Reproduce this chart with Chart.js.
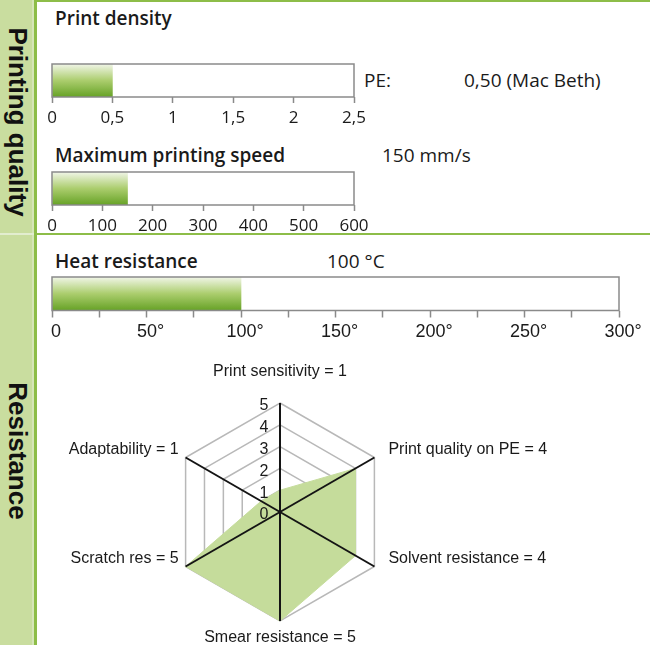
<!DOCTYPE html>
<html>
<head>
<meta charset="utf-8">
<title>Printing quality and resistance</title>
<script src="https://cdn.jsdelivr.net/npm/chart.js@4.4.0/dist/chart.umd.min.js"></script>
<style>
    html, body { margin: 0; padding: 0; background: #fff; }
    body { width: 650px; height: 645px; position: relative; overflow: hidden; font-family: 'Open Sans', sans-serif; color: #1a1a1a; }
    .abs { position: absolute; }
    #sidebar { left: 0; top: 0; width: 34px; height: 645px; background: #c9dd9f; }
    #sideLight { left: 32px; top: 0; width: 2px; height: 645px; background: #d6e6b8; }
    #vline { left: 34px; top: 0; width: 3px; height: 645px; background: #8dbd48; }
    .hline { left: 37px; width: 613px; height: 2px; background: #8dbd48; }
    #sideSep { left: 0; top: 233px; width: 34px; height: 2px; background: #e2edcf; }
    .side-label { font-family: 'Liberation Sans', Arial, sans-serif; font-weight: bold; font-size: 26px; color: #111; white-space: nowrap; transform: translate(-50%, -50%) rotate(90deg); }
    .title { font-weight: 600; font-size: 19px; white-space: nowrap; transform: translateY(-50%); }
    .note { font-size: 19px; white-space: nowrap; transform: translateY(-50%); }
    canvas { position: absolute; }
</style>
</head>
<body>
<div id="sidebar" class="abs"></div>
<div id="sideLight" class="abs"></div>
<div id="sideSep" class="abs"></div>
<div id="vline" class="abs"></div>
<div class="abs hline" style="top:0"></div>
<div class="abs hline" style="top:233px"></div>

<div class="abs side-label" style="left:17px; top:122px">Printing quality</div>
<div class="abs side-label" style="left:17px; top:451px">Resistance</div>

<div class="abs title" style="left:55px; top:18px">Print density</div>
<div class="abs note" style="left:364px; top:80px">PE:</div>
<div class="abs note" style="left:464px; top:80px">0,50 (Mac Beth)</div>
<canvas id="densityChart" width="342" height="68" style="left:36px; top:62px"></canvas>

<div class="abs title" style="left:55px; top:155px">Maximum printing speed</div>
<div class="abs note" style="left:382px; top:155px">150 mm/s</div>
<canvas id="speedChart" width="342" height="68" style="left:36px; top:170px"></canvas>

<div class="abs title" style="left:55px; top:261px">Heat resistance</div>
<div class="abs note" style="left:327px; top:261px">100 °C</div>
<canvas id="heatChart" width="614" height="69" style="left:36px; top:275px"></canvas>

<canvas id="radarChart" width="614" height="285" style="left:36px; top:360px"></canvas>

<script>
// Gauge values and axis labels
const densityValue = [0.5];
const densityMax = 2.5;
const densityTicks = ['0', '0,5', '1', '1,5', '2', '2,5'];

const speedValue = [150];
const speedMax = 600;
const speedTicks = ['0', '100', '200', '300', '400', '500', '600'];

const heatValue = [100];
const heatMax = 300;
const heatTicks = ['0', '50°', '100°', '150°', '200°', '250°', '300°'];

// Radar (resistance profile)
const radarCategories = ['Print sensitivity', 'Print quality on PE', 'Solvent resistance', 'Smear resistance', 'Scratch res', 'Adaptability'];
const radarValues = [1, 4, 4, 5, 5, 1];
const radarTicks = ['0', '1', '2', '3', '4', '5'];

const sansFont = '"Liberation Sans", Arial, sans-serif';

// Green shading of the gauge bars
function barFill(context) {
    const chart = context.chart;
    const area = chart.chartArea;
    if (!area) return '#8fbf4a';
    const g = chart.ctx.createLinearGradient(0, area.top, 0, area.bottom);
    g.addColorStop(0, '#f1f6e8');
    g.addColorStop(0.5, '#abcd6d');
    g.addColorStop(1, '#66a226');
    return g;
}

// Frame around the gauge area
const boxBorder = {
    id: 'boxBorder',
    afterDatasetsDraw(chart) {
        const { ctx, chartArea: a } = chart;
        ctx.save();
        ctx.strokeStyle = '#8a8a8a';
        ctx.lineWidth = 1.5;
        ctx.strokeRect(a.left, a.top, a.right - a.left, a.bottom - a.top);
        ctx.restore();
    }
};

function makeGauge(id, values, max, step, labelFor, cfg) {
    const el = document.getElementById(id);
    return new Chart(el, {
        type: 'bar',
        data: {
            labels: [''],
            datasets: [{
                data: values,
                backgroundColor: barFill,
                borderWidth: 0,
                barPercentage: 1,
                categoryPercentage: 1
            }]
        },
        options: {
            indexAxis: 'y',
            responsive: false,
            animation: false,
            events: [],
            layout: { padding: { left: 16, right: cfg.right, top: 2, bottom: 0 } },
            plugins: { legend: { display: false }, tooltip: { enabled: false } },
            scales: {
                y: { display: false },
                x: {
                    min: 0,
                    max: max,
                    border: { display: false },
                    grid: { drawOnChartArea: false, tickLength: cfg.tickLength, tickColor: '#8a8a8a', tickWidth: 1.5 },
                    ticks: {
                        stepSize: step,
                        autoSkip: false,
                        maxRotation: 0,
                        padding: 5,
                        labelOffset: cfg.labelOffset || 0,
                        color: '#1a1a1a',
                        font: cfg.font,
                        callback: (v, i) => labelFor(i)
                    }
                }
            }
        },
        plugins: [boxBorder]
    });
}

const gaugeFont = { family: "'Open Sans', sans-serif", size: 17, lineHeight: '20px' };

makeGauge('densityChart', densityValue, densityMax, 0.5, i => densityTicks[i],
    { right: 24, tickLength: 6, font: gaugeFont });
makeGauge('speedChart', speedValue, speedMax, 100, i => speedTicks[i],
    { right: 24, tickLength: 6, font: gaugeFont });
// heat axis has a tick every 25, labelled every 50
makeGauge('heatChart', heatValue, heatMax, 25, i => (i % 2 === 0 ? heatTicks[i / 2] : ''),
    { right: 31, tickLength: 7, labelOffset: 4, font: { family: sansFont, size: 18, lineHeight: '20px' } });

// Spokes, ring numbers and category labels on top of the filled area
const radarOverlay = {
    id: 'radarOverlay',
    afterDatasetsDraw(chart) {
        const r = chart.scales.r;
        const ctx = chart.ctx;
        const R = r.drawingArea;
        ctx.save();

        ctx.strokeStyle = '#141414';
        ctx.lineWidth = 2;
        radarCategories.forEach((c, i) => {
            const p = r.getPointPosition(i, R);
            ctx.beginPath();
            ctx.moveTo(r.xCenter, r.yCenter);
            ctx.lineTo(p.x, p.y);
            ctx.stroke();
        });

        ctx.font = '16px ' + sansFont;
        ctx.fillStyle = '#1a1a1a';
        ctx.textBaseline = 'middle';
        ctx.textAlign = 'center';
        r.ticks.forEach((t, i) => {
            const d = r.getDistanceFromCenterForValue(t.value);
            ctx.fillText(radarTicks[i], r.xCenter - 16, r.yCenter - d + 3);
        });

        radarCategories.forEach((c, i) => {
            const p = r.getPointPosition(i, R);
            const dx = p.x - r.xCenter;
            const text = c + ' = ' + radarValues[i];
            let x = p.x, y = p.y;
            if (Math.abs(dx) < 1) {
                ctx.textAlign = 'center';
                y = p.y < r.yCenter ? p.y - 31 : p.y + 17;
            } else if (dx > 0) {
                ctx.textAlign = 'left';
                x = p.x + 14;
                y = p.y - 8;
            } else {
                ctx.textAlign = 'right';
                x = p.x - 7;
                y = p.y - 8;
            }
            ctx.fillText(text, x, y);
        });
        ctx.restore();
    }
};

new Chart(document.getElementById('radarChart'), {
    type: 'radar',
    data: {
        labels: radarCategories,
        datasets: [{
            data: radarValues,
            backgroundColor: '#c5dc9b',
            borderColor: '#c5dc9b',
            borderWidth: 1,
            pointRadius: 0,
            fill: true
        }]
    },
    options: {
        responsive: false,
        animation: false,
        events: [],
        layout: { padding: { left: 0, right: 126, top: 43, bottom: 24 } },
        plugins: { legend: { display: false }, tooltip: { enabled: false } },
        scales: {
            r: {
                min: 0,
                max: 5,
                ticks: { stepSize: 1, display: false },
                pointLabels: { display: false },
                angleLines: { display: false },
                grid: { circular: false, color: '#b8b8b8', lineWidth: 1.5 }
            }
        }
    },
    plugins: [radarOverlay]
});
</script>
</body>
</html>
